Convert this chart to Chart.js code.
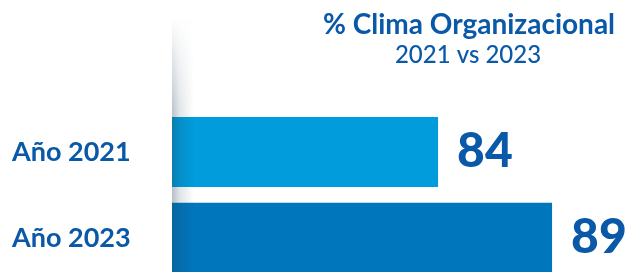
<!DOCTYPE html>
<html>
  <head>
    <meta charset="utf-8">
    <title>Clima Organizacional</title>
    <style>
      body { margin: 0; background: #fff; }
      .chart-container {
        width: 633px;
        height: 272px;
        overflow: hidden;
      }
    </style>
  </head>
  <body>
    <div class="chart-container">
      <canvas id="mycanvas" width="633" height="300"></canvas>
    </div>

    <script type="text/javascript" src="https://cdn.jsdelivr.net/npm/chart.js@4.4.1/dist/chart.umd.min.js"></script>
    <script>
      // data
      var years = ['Año 2021', 'Año 2023'];
      var clima = [84, 89];
      var barColors = ['#009cdc', '#0076bd'];
      var titleLines = ['% Clima Organizacional', '2021 vs 2023'];

      var textBlue = '#0a58a8';

      // soft shadow strip on the left edge of the bars, plus title and values
      var extras = {
        id: 'extras',
        afterDatasetsDraw: function(chart) {
          var ctx = chart.ctx;
          var area = chart.chartArea;

          // shadow
          var w = 22, h = chart.height;
          var off = document.createElement('canvas');
          off.width = w; off.height = h;
          var o = off.getContext('2d');
          var g = o.createLinearGradient(0, 0, w, 0);
          g.addColorStop(0, 'rgba(30,60,80,0.32)');
          g.addColorStop(0.35, 'rgba(30,60,80,0.14)');
          g.addColorStop(1, 'rgba(30,60,80,0)');
          o.fillStyle = g;
          o.fillRect(0, 0, w, h);
          o.globalCompositeOperation = 'destination-in';
          var v = o.createLinearGradient(0, 16, 0, 118);
          v.addColorStop(0, 'rgba(0,0,0,0)');
          v.addColorStop(1, 'rgba(0,0,0,1)');
          o.fillStyle = v;
          o.fillRect(0, 0, w, h);
          ctx.drawImage(off, area.left, 0);

          // values at the bar ends
          var meta = chart.getDatasetMeta(0);
          ctx.save();
          ctx.fillStyle = textBlue;
          ctx.font = '900 48px Lato';
          ctx.textAlign = 'left';
          ctx.textBaseline = 'alphabetic';
          meta.data.forEach(function(bar, i) {
            ctx.fillText(String(clima[i]), bar.x + 19, bar.y + 15);
          });

          // title
          ctx.textAlign = 'center';
          ctx.font = 'bold 28px Lato';
          ctx.fillText(titleLines[0], 469, 34);
          ctx.font = '500 24px Lato';
          ctx.fillText(titleLines[1], 468, 63);
          ctx.restore();
        }
      };

      var chartdata = {
        labels: years,
        datasets: [
          {
            label: '% Clima Organizacional',
            backgroundColor: barColors,
            borderWidth: 0,
            categoryPercentage: 1,
            barPercentage: 0.816,
            data: clima
          }
        ]
      };

      var ctx = document.getElementById('mycanvas');

      var BarGraph = new Chart(ctx, {
        type: 'bar',
        data: chartdata,
        options: {
          indexAxis: 'y',
          responsive: false,
          animation: false,
          layout: {
            padding: { left: 12, top: 109, bottom: 17, right: 0 }
          },
          plugins: {
            legend: { display: false },
            tooltip: { enabled: false }
          },
          scales: {
            x: {
              display: false,
              min: 72.33,
              max: 92.55
            },
            y: {
              grid: { display: false },
              border: { display: false },
              afterFit: function(axis) { axis.width = 160; },
              ticks: {
                crossAlign: 'far',
                color: textBlue,
                font: { family: 'Lato', weight: 'bold', size: 27 }
              }
            }
          }
        },
        plugins: [extras]
      });
    </script>
  </body>
</html>
